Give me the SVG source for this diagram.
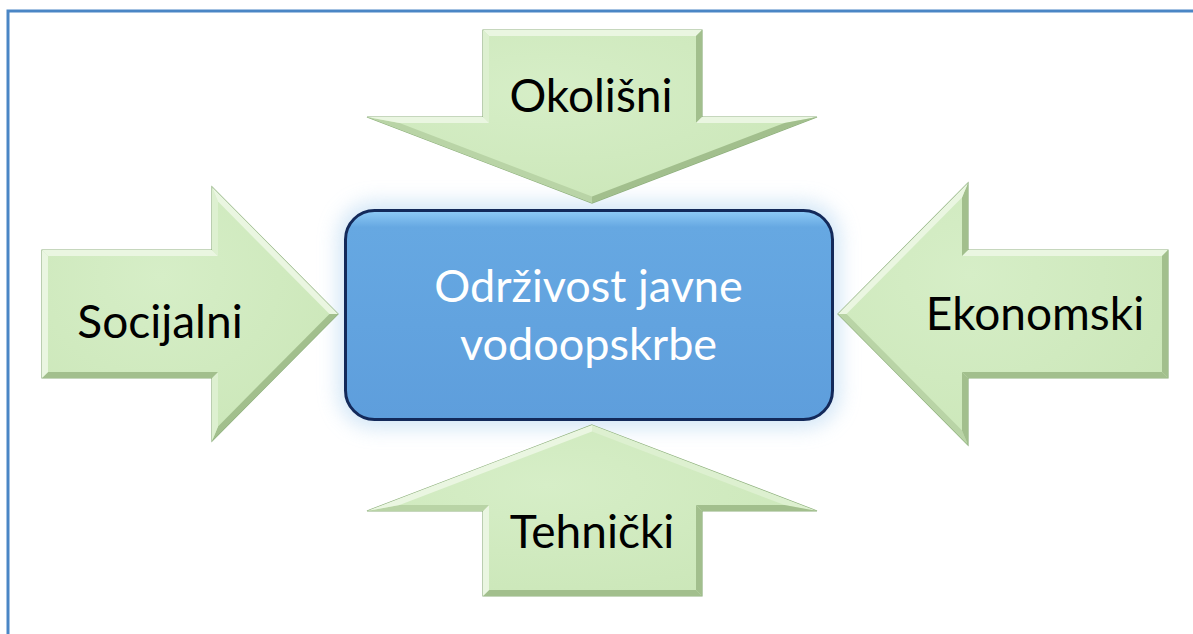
<svg xmlns="http://www.w3.org/2000/svg" width="1193" height="634" viewBox="0 0 1193 634">
  <defs>
    <linearGradient id="boxFill" x1="0" y1="0" x2="0" y2="1">
      <stop offset="0" stop-color="#8FCBF6"/>
      <stop offset="0.08" stop-color="#66A8E2"/>
      <stop offset="1" stop-color="#5E9EDC"/>
    </linearGradient>
    <radialGradient id="greenFill" cx="0.4" cy="0.35" r="0.8">
      <stop offset="0" stop-color="#D6EEC7"/>
      <stop offset="1" stop-color="#CAE6B7"/>
    </radialGradient>
    <filter id="glow" x="-20%" y="-30%" width="140%" height="160%">
      <feGaussianBlur stdDeviation="10"/>
    </filter>
  </defs>
  <style>
    .frame { fill: none; stroke: #4A86C5; stroke-width: 3; }
    .arrow { fill: url(#greenFill); stroke: #8DAF7C; stroke-width: 1.2; stroke-linejoin: miter; }
    .lt { fill: #EAF6E1; }
    .ml { fill: #DDF0D0; }
    .md { fill: #B9D4A6; }
    .dk { fill: #A2BF8D; }
    .lbl { font-family: Lato, "Open Sans", "Liberation Sans", sans-serif; font-size: 46px; fill: #000; text-anchor: middle; }
    .ctr { font-family: Lato, "Open Sans", "Liberation Sans", sans-serif; font-size: 45px; fill: #FFFFFF; text-anchor: middle; }
  </style>
  <rect width="1193" height="634" fill="#FFFFFF"/>
  <rect class="frame" x="8" y="11" width="1200" height="640"/>

  <g id="connectors"/>

  <!-- Central node -->
  <g id="node-center">
    <rect x="338" y="202" width="502" height="226" rx="36" fill="#BFDBF3" opacity="0.7" filter="url(#glow)"/>
    <rect x="345.5" y="210.5" width="487" height="209" rx="29" fill="url(#boxFill)" stroke="#13295A" stroke-width="3"/>
    <text class="ctr" x="588.5" y="302">Održivost javne</text>
    <text class="ctr" x="588.5" y="360">vodoopskrbe</text>
  </g>

  <!-- Top arrow: Okolišni -->
  <g id="node-okolisni">
    <polygon class="arrow" points="483,30 702,30 702,117 817,117 592,203 367,117 483,117"/>
    <polygon class="lt" points="483,30 702,30 696,36 489,36"/>
    <polygon class="ml" points="483,30 489,36 489,123 483,117"/>
    <polygon class="dk" points="702,30 702,117 696,123 696,36"/>
    <polygon class="lt" points="702,117 817,117 784.5,123 696,123"/>
    <polygon class="dk" points="817,117 592,203 592,196.6 784.5,123"/>
    <polygon class="md" points="592,203 367,117 399.5,123 592,196.6"/>
    <polygon class="lt" points="367,117 483,117 489,123 399.5,123"/>
    <text class="lbl" x="591" y="112">Okolišni</text>
  </g>

  <!-- Left arrow: Socijalni -->
  <g id="node-socijalni">
    <polygon class="arrow" points="42,250 212,250 212,187 338,314 212,441 212,378 42,378"/>
    <polygon class="lt" points="42,250 212,250 218,256 48,256"/>
    <polygon class="ml" points="212,250 212,187 218,201.6 218,256"/>
    <polygon class="lt" points="212,187 338,314 329.5,314 218,201.6"/>
    <polygon class="dk" points="338,314 212,441 218,426.4 329.5,314"/>
    <polygon class="ml" points="212,441 212,378 218,372 218,426.4"/>
    <polygon class="dk" points="212,378 42,378 48,372 218,372"/>
    <polygon class="lt" points="42,378 42,250 48,256 48,372"/>
    <text class="lbl" x="160" y="338">Socijalni</text>
  </g>

  <!-- Right arrow: Ekonomski -->
  <g id="node-ekonomski">
    <polygon class="arrow" points="1168,250 968,250 968,183 838,314 968,445 968,378 1168,378"/>
    <polygon class="lt" points="1168,250 968,250 962,256 1162,256"/>
    <polygon class="dk" points="968,250 968,183 962,197.6 962,256"/>
    <polygon class="lt" points="968,183 838,314 846.5,314 962,197.6"/>
    <polygon class="md" points="838,314 968,445 962,430.4 846.5,314"/>
    <polygon class="dk" points="968,445 968,378 962,372 962,430.4"/>
    <polygon class="dk" points="968,378 1168,378 1162,372 962,372"/>
    <polygon class="dk" points="1168,378 1168,250 1162,256 1162,372"/>
    <text class="lbl" x="1035" y="330">Ekonomski</text>
  </g>

  <!-- Bottom arrow: Tehnički -->
  <g id="node-tehnicki">
    <polygon class="arrow" points="592,425 817,511 702,511 702,596 483,596 483,511 367,511"/>
    <polygon class="ml" points="592,425 817,511 784.5,505 592,431.4"/>
    <polygon class="dk" points="817,511 702,511 696,505 784.5,505"/>
    <polygon class="dk" points="702,511 702,596 696,590 696,505"/>
    <polygon class="dk" points="702,596 483,596 489,590 696,590"/>
    <polygon class="lt" points="483,596 483,511 489,505 489,590"/>
    <polygon class="md" points="483,511 367,511 399.5,505 489,505"/>
    <polygon class="lt" points="367,511 592,425 592,431.4 399.5,505"/>
    <text class="lbl" x="592" y="548">Tehnički</text>
  </g>
</svg>
